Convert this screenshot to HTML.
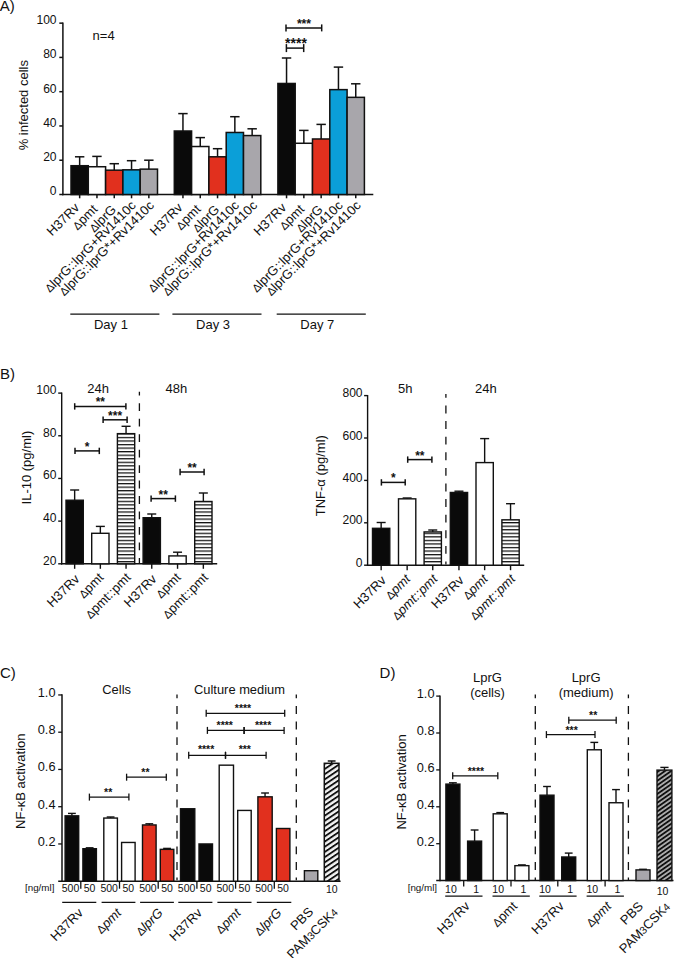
<!DOCTYPE html>
<html><head><meta charset="utf-8"><title>Figure</title>
<style>
html,body{margin:0;padding:0;background:#fff;}
body{width:675px;height:958px;overflow:hidden;font-family:"Liberation Sans",sans-serif;}
svg{display:block;}
svg text{font-family:"Liberation Sans",sans-serif;fill:#111;}
</style></head><body>
<svg width="675" height="958" viewBox="0 0 675 958">
<defs>
<pattern id="hs" x="0" y="0.2" width="4" height="3.55" patternUnits="userSpaceOnUse"><rect x="0" y="0" width="4" height="3.55" fill="#fff"/><rect x="0" y="0" width="4" height="1.25" fill="#111"/></pattern>
<pattern id="dg" x="0" y="1.2" width="6" height="4.3" patternUnits="userSpaceOnUse" patternTransform="rotate(-34)"><rect width="6" height="4.3" fill="#f3f3f3"/><rect width="6" height="1.85" fill="#111"/></pattern>
<pattern id="dg2" x="0" y="0.5" width="6" height="3.6" patternUnits="userSpaceOnUse" patternTransform="rotate(-35)"><rect width="6" height="3.6" fill="#ababab"/><rect width="6" height="1.75" fill="#0c0c0c"/></pattern>
</defs>
<rect width="675" height="958" fill="#fff"/>
<text x="-0.30" y="10.80" font-size="15" text-anchor="start" >A)</text>
<line x1="62.90" y1="22.55" x2="62.90" y2="195.15" stroke="#111" stroke-width="1.5" />
<line x1="62.20" y1="194.50" x2="373.30" y2="194.50" stroke="#111" stroke-width="1.5" />
<line x1="59.30" y1="194.50" x2="62.90" y2="194.50" stroke="#111" stroke-width="1.5" />
<text x="56.60" y="195.40" font-size="12.1" text-anchor="end" >0</text>
<line x1="59.30" y1="160.23" x2="62.90" y2="160.23" stroke="#111" stroke-width="1.5" />
<text x="56.60" y="161.13" font-size="12.1" text-anchor="end" >20</text>
<line x1="59.30" y1="125.96" x2="62.90" y2="125.96" stroke="#111" stroke-width="1.5" />
<text x="56.60" y="126.86" font-size="12.1" text-anchor="end" >40</text>
<line x1="59.30" y1="91.69" x2="62.90" y2="91.69" stroke="#111" stroke-width="1.5" />
<text x="56.60" y="92.59" font-size="12.1" text-anchor="end" >60</text>
<line x1="59.30" y1="57.42" x2="62.90" y2="57.42" stroke="#111" stroke-width="1.5" />
<text x="56.60" y="58.32" font-size="12.1" text-anchor="end" >80</text>
<line x1="59.30" y1="23.15" x2="62.90" y2="23.15" stroke="#111" stroke-width="1.5" />
<text x="56.60" y="24.05" font-size="12.1" text-anchor="end" >100</text>
<text x="28.20" y="105.20" font-size="13" text-anchor="middle" transform="rotate(-90 28.20 105.20)" >% infected cells</text>
<text x="92.60" y="39.60" font-size="13" text-anchor="start" >n=4</text>
<line x1="79.65" y1="165.71" x2="79.65" y2="156.80" stroke="#111" stroke-width="1.5" />
<line x1="74.95" y1="156.80" x2="84.35" y2="156.80" stroke="#111" stroke-width="1.5" />
<rect x="71.00" y="165.71" width="17.30" height="28.79" fill="#0a0a0a" stroke="#111" stroke-width="1.5"/>
<line x1="79.65" y1="194.50" x2="79.65" y2="198.30" stroke="#111" stroke-width="1.5" />
<text x="80.15" y="208.50" font-size="13" text-anchor="end" transform="rotate(-45 80.15 208.50)" >H37Rv</text>
<line x1="96.95" y1="166.74" x2="96.95" y2="156.40" stroke="#111" stroke-width="1.5" />
<line x1="92.25" y1="156.40" x2="101.65" y2="156.40" stroke="#111" stroke-width="1.5" />
<rect x="88.30" y="166.74" width="17.30" height="27.76" fill="#ffffff" stroke="#111" stroke-width="1.5"/>
<line x1="96.95" y1="194.50" x2="96.95" y2="198.30" stroke="#111" stroke-width="1.5" />
<text x="98.25" y="210.00" font-size="13" text-anchor="end" transform="rotate(-45 98.25 210.00)" ><tspan font-size="11.3">Δ</tspan>pmt</text>
<line x1="114.25" y1="170.17" x2="114.25" y2="163.70" stroke="#111" stroke-width="1.5" />
<line x1="109.55" y1="163.70" x2="118.95" y2="163.70" stroke="#111" stroke-width="1.5" />
<rect x="105.60" y="170.17" width="17.30" height="24.33" fill="#e1301e" stroke="#111" stroke-width="1.5"/>
<line x1="114.25" y1="194.50" x2="114.25" y2="198.30" stroke="#111" stroke-width="1.5" />
<text x="116.85" y="210.30" font-size="13" text-anchor="end" transform="rotate(-45 116.85 210.30)" ><tspan font-size="11.3">Δ</tspan>lprG</text>
<line x1="131.55" y1="169.83" x2="131.55" y2="160.70" stroke="#111" stroke-width="1.5" />
<line x1="126.85" y1="160.70" x2="136.25" y2="160.70" stroke="#111" stroke-width="1.5" />
<rect x="122.90" y="169.83" width="17.30" height="24.67" fill="#0b9fd8" stroke="#111" stroke-width="1.5"/>
<line x1="131.55" y1="194.50" x2="131.55" y2="198.30" stroke="#111" stroke-width="1.5" />
<text x="136.65" y="206.20" font-size="13" text-anchor="end" transform="rotate(-45 136.65 206.20)" ><tspan font-size="11.3">Δ</tspan>lprG::lprG+Rv1410c</text>
<line x1="148.85" y1="169.14" x2="148.85" y2="160.20" stroke="#111" stroke-width="1.5" />
<line x1="144.15" y1="160.20" x2="153.55" y2="160.20" stroke="#111" stroke-width="1.5" />
<rect x="140.20" y="169.14" width="17.30" height="25.36" fill="#a8a6ab" stroke="#111" stroke-width="1.5"/>
<line x1="148.85" y1="194.50" x2="148.85" y2="198.30" stroke="#111" stroke-width="1.5" />
<text x="154.75" y="206.20" font-size="13" text-anchor="end" transform="rotate(-45 154.75 206.20)" ><tspan font-size="11.3">Δ</tspan>lprG::lprG*+Rv1410c</text>
<line x1="182.95" y1="131.00" x2="182.95" y2="113.60" stroke="#111" stroke-width="1.5" />
<line x1="178.25" y1="113.60" x2="187.65" y2="113.60" stroke="#111" stroke-width="1.5" />
<rect x="174.30" y="131.00" width="17.30" height="63.50" fill="#0a0a0a" stroke="#111" stroke-width="1.5"/>
<line x1="182.95" y1="194.50" x2="182.95" y2="198.30" stroke="#111" stroke-width="1.5" />
<text x="183.45" y="208.50" font-size="13" text-anchor="end" transform="rotate(-45 183.45 208.50)" >H37Rv</text>
<line x1="200.25" y1="146.52" x2="200.25" y2="137.60" stroke="#111" stroke-width="1.5" />
<line x1="195.55" y1="137.60" x2="204.95" y2="137.60" stroke="#111" stroke-width="1.5" />
<rect x="191.60" y="146.52" width="17.30" height="47.98" fill="#ffffff" stroke="#111" stroke-width="1.5"/>
<line x1="200.25" y1="194.50" x2="200.25" y2="198.30" stroke="#111" stroke-width="1.5" />
<text x="201.55" y="210.00" font-size="13" text-anchor="end" transform="rotate(-45 201.55 210.00)" ><tspan font-size="11.3">Δ</tspan>pmt</text>
<line x1="217.55" y1="156.80" x2="217.55" y2="148.70" stroke="#111" stroke-width="1.5" />
<line x1="212.85" y1="148.70" x2="222.25" y2="148.70" stroke="#111" stroke-width="1.5" />
<rect x="208.90" y="156.80" width="17.30" height="37.70" fill="#e1301e" stroke="#111" stroke-width="1.5"/>
<line x1="217.55" y1="194.50" x2="217.55" y2="198.30" stroke="#111" stroke-width="1.5" />
<text x="220.15" y="210.30" font-size="13" text-anchor="end" transform="rotate(-45 220.15 210.30)" ><tspan font-size="11.3">Δ</tspan>lprG</text>
<line x1="234.85" y1="132.47" x2="234.85" y2="116.70" stroke="#111" stroke-width="1.5" />
<line x1="230.15" y1="116.70" x2="239.55" y2="116.70" stroke="#111" stroke-width="1.5" />
<rect x="226.20" y="132.47" width="17.30" height="62.03" fill="#0b9fd8" stroke="#111" stroke-width="1.5"/>
<line x1="234.85" y1="194.50" x2="234.85" y2="198.30" stroke="#111" stroke-width="1.5" />
<text x="239.95" y="206.20" font-size="13" text-anchor="end" transform="rotate(-45 239.95 206.20)" ><tspan font-size="11.3">Δ</tspan>lprG::lprG+Rv1410c</text>
<line x1="252.15" y1="135.56" x2="252.15" y2="128.80" stroke="#111" stroke-width="1.5" />
<line x1="247.45" y1="128.80" x2="256.85" y2="128.80" stroke="#111" stroke-width="1.5" />
<rect x="243.50" y="135.56" width="17.30" height="58.94" fill="#a8a6ab" stroke="#111" stroke-width="1.5"/>
<line x1="252.15" y1="194.50" x2="252.15" y2="198.30" stroke="#111" stroke-width="1.5" />
<text x="258.05" y="206.20" font-size="13" text-anchor="end" transform="rotate(-45 258.05 206.20)" ><tspan font-size="11.3">Δ</tspan>lprG::lprG*+Rv1410c</text>
<line x1="286.55" y1="83.47" x2="286.55" y2="58.00" stroke="#111" stroke-width="1.5" />
<line x1="281.85" y1="58.00" x2="291.25" y2="58.00" stroke="#111" stroke-width="1.5" />
<rect x="277.90" y="83.47" width="17.30" height="111.03" fill="#0a0a0a" stroke="#111" stroke-width="1.5"/>
<line x1="286.55" y1="194.50" x2="286.55" y2="198.30" stroke="#111" stroke-width="1.5" />
<text x="287.05" y="208.50" font-size="13" text-anchor="end" transform="rotate(-45 287.05 208.50)" >H37Rv</text>
<line x1="303.85" y1="143.27" x2="303.85" y2="130.40" stroke="#111" stroke-width="1.5" />
<line x1="299.15" y1="130.40" x2="308.55" y2="130.40" stroke="#111" stroke-width="1.5" />
<rect x="295.20" y="143.27" width="17.30" height="51.23" fill="#ffffff" stroke="#111" stroke-width="1.5"/>
<line x1="303.85" y1="194.50" x2="303.85" y2="198.30" stroke="#111" stroke-width="1.5" />
<text x="305.15" y="210.00" font-size="13" text-anchor="end" transform="rotate(-45 305.15 210.00)" ><tspan font-size="11.3">Δ</tspan>pmt</text>
<line x1="321.15" y1="138.98" x2="321.15" y2="124.40" stroke="#111" stroke-width="1.5" />
<line x1="316.45" y1="124.40" x2="325.85" y2="124.40" stroke="#111" stroke-width="1.5" />
<rect x="312.50" y="138.98" width="17.30" height="55.52" fill="#e1301e" stroke="#111" stroke-width="1.5"/>
<line x1="321.15" y1="194.50" x2="321.15" y2="198.30" stroke="#111" stroke-width="1.5" />
<text x="323.75" y="210.30" font-size="13" text-anchor="end" transform="rotate(-45 323.75 210.30)" ><tspan font-size="11.3">Δ</tspan>lprG</text>
<line x1="338.45" y1="89.63" x2="338.45" y2="67.10" stroke="#111" stroke-width="1.5" />
<line x1="333.75" y1="67.10" x2="343.15" y2="67.10" stroke="#111" stroke-width="1.5" />
<rect x="329.80" y="89.63" width="17.30" height="104.87" fill="#0b9fd8" stroke="#111" stroke-width="1.5"/>
<line x1="338.45" y1="194.50" x2="338.45" y2="198.30" stroke="#111" stroke-width="1.5" />
<text x="343.55" y="206.20" font-size="13" text-anchor="end" transform="rotate(-45 343.55 206.20)" ><tspan font-size="11.3">Δ</tspan>lprG::lprG+Rv1410c</text>
<line x1="355.75" y1="97.34" x2="355.75" y2="83.80" stroke="#111" stroke-width="1.5" />
<line x1="351.05" y1="83.80" x2="360.45" y2="83.80" stroke="#111" stroke-width="1.5" />
<rect x="347.10" y="97.34" width="17.30" height="97.16" fill="#a8a6ab" stroke="#111" stroke-width="1.5"/>
<line x1="355.75" y1="194.50" x2="355.75" y2="198.30" stroke="#111" stroke-width="1.5" />
<text x="361.65" y="206.20" font-size="13" text-anchor="end" transform="rotate(-45 361.65 206.20)" ><tspan font-size="11.3">Δ</tspan>lprG::lprG*+Rv1410c</text>
<line x1="286.00" y1="27.90" x2="321.70" y2="27.90" stroke="#111" stroke-width="1.5" />
<line x1="286.00" y1="24.40" x2="286.00" y2="31.40" stroke="#111" stroke-width="1.5" />
<line x1="321.70" y1="24.40" x2="321.70" y2="31.40" stroke="#111" stroke-width="1.5" />
<text x="304.00" y="28.10" font-size="12.2" text-anchor="middle" font-weight="bold">***</text>
<line x1="286.40" y1="48.10" x2="303.70" y2="48.10" stroke="#111" stroke-width="1.5" />
<line x1="286.40" y1="44.10" x2="286.40" y2="52.10" stroke="#111" stroke-width="1.5" />
<line x1="303.70" y1="44.10" x2="303.70" y2="52.10" stroke="#111" stroke-width="1.5" />
<text x="296.00" y="47.80" font-size="14" text-anchor="middle" font-weight="bold">****</text>
<line x1="70.30" y1="314.20" x2="159.40" y2="314.20" stroke="#111" stroke-width="1.3" />
<text x="110.95" y="329.00" font-size="13" text-anchor="middle" >Day 1</text>
<line x1="172.40" y1="314.20" x2="261.50" y2="314.20" stroke="#111" stroke-width="1.3" />
<text x="213.05" y="329.00" font-size="13" text-anchor="middle" >Day 3</text>
<line x1="276.70" y1="314.20" x2="365.80" y2="314.20" stroke="#111" stroke-width="1.3" />
<text x="317.35" y="329.00" font-size="13" text-anchor="middle" >Day 7</text>
<text x="0.00" y="379.40" font-size="15" text-anchor="start" >B)</text>
<line x1="61.70" y1="392.50" x2="61.70" y2="564.45" stroke="#111" stroke-width="1.4" />
<line x1="61.00" y1="563.80" x2="217.20" y2="563.80" stroke="#111" stroke-width="1.4" />
<line x1="58.20" y1="563.80" x2="61.70" y2="563.80" stroke="#111" stroke-width="1.4" />
<text x="56.40" y="564.60" font-size="12.1" text-anchor="end" >20</text>
<line x1="58.20" y1="521.12" x2="61.70" y2="521.12" stroke="#111" stroke-width="1.4" />
<text x="56.40" y="521.92" font-size="12.1" text-anchor="end" >40</text>
<line x1="58.20" y1="478.45" x2="61.70" y2="478.45" stroke="#111" stroke-width="1.4" />
<text x="56.40" y="479.25" font-size="12.1" text-anchor="end" >60</text>
<line x1="58.20" y1="435.77" x2="61.70" y2="435.77" stroke="#111" stroke-width="1.4" />
<text x="56.40" y="436.57" font-size="12.1" text-anchor="end" >80</text>
<line x1="58.20" y1="393.10" x2="61.70" y2="393.10" stroke="#111" stroke-width="1.4" />
<text x="56.40" y="393.90" font-size="12.1" text-anchor="end" >100</text>
<text x="30.60" y="467.60" font-size="13" text-anchor="middle" transform="rotate(-90 30.60 467.60)" >IL-10 (pg/ml)</text>
<text x="87.20" y="392.80" font-size="13" text-anchor="start" >24h</text>
<text x="165.50" y="392.80" font-size="13" text-anchor="start" >48h</text>
<line x1="74.65" y1="500.21" x2="74.65" y2="490.00" stroke="#111" stroke-width="1.4" />
<line x1="70.15" y1="490.00" x2="79.15" y2="490.00" stroke="#111" stroke-width="1.4" />
<rect x="66.00" y="500.21" width="17.30" height="63.59" fill="#0a0a0a" stroke="#111" stroke-width="1.4"/>
<line x1="74.65" y1="563.80" x2="74.65" y2="568.80" stroke="#111" stroke-width="1.4" />
<text x="80.35" y="579.80" font-size="13" text-anchor="end" transform="rotate(-45 80.35 579.80)" >H37Rv</text>
<line x1="100.35" y1="533.29" x2="100.35" y2="526.40" stroke="#111" stroke-width="1.4" />
<line x1="95.85" y1="526.40" x2="104.85" y2="526.40" stroke="#111" stroke-width="1.4" />
<rect x="91.70" y="533.29" width="17.30" height="30.51" fill="#ffffff" stroke="#111" stroke-width="1.4"/>
<line x1="100.35" y1="563.80" x2="100.35" y2="568.80" stroke="#111" stroke-width="1.4" />
<text x="104.35" y="578.30" font-size="13" text-anchor="end" transform="rotate(-45 104.35 578.30)" ><tspan font-size="11.3">Δ</tspan>pmt</text>
<line x1="126.05" y1="433.64" x2="126.05" y2="426.30" stroke="#111" stroke-width="1.4" />
<line x1="121.55" y1="426.30" x2="130.55" y2="426.30" stroke="#111" stroke-width="1.4" />
<rect x="117.40" y="433.64" width="17.30" height="130.16" fill="url(#hs)" stroke="#111" stroke-width="1.4"/>
<line x1="126.05" y1="563.80" x2="126.05" y2="568.80" stroke="#111" stroke-width="1.4" />
<text x="131.55" y="578.30" font-size="13" text-anchor="end" transform="rotate(-45 131.55 578.30)" ><tspan font-size="11.3">Δ</tspan>pmt::pmt</text>
<line x1="151.75" y1="517.71" x2="151.75" y2="514.00" stroke="#111" stroke-width="1.4" />
<line x1="147.25" y1="514.00" x2="156.25" y2="514.00" stroke="#111" stroke-width="1.4" />
<rect x="143.10" y="517.71" width="17.30" height="46.09" fill="#0a0a0a" stroke="#111" stroke-width="1.4"/>
<line x1="151.75" y1="563.80" x2="151.75" y2="568.80" stroke="#111" stroke-width="1.4" />
<text x="157.45" y="579.80" font-size="13" text-anchor="end" transform="rotate(-45 157.45 579.80)" >H37Rv</text>
<line x1="177.55" y1="555.91" x2="177.55" y2="552.20" stroke="#111" stroke-width="1.4" />
<line x1="173.05" y1="552.20" x2="182.05" y2="552.20" stroke="#111" stroke-width="1.4" />
<rect x="168.90" y="555.91" width="17.30" height="7.89" fill="#ffffff" stroke="#111" stroke-width="1.4"/>
<line x1="177.55" y1="563.80" x2="177.55" y2="568.80" stroke="#111" stroke-width="1.4" />
<text x="181.55" y="578.30" font-size="13" text-anchor="end" transform="rotate(-45 181.55 578.30)" ><tspan font-size="11.3">Δ</tspan>pmt</text>
<line x1="203.35" y1="501.49" x2="203.35" y2="493.00" stroke="#111" stroke-width="1.4" />
<line x1="198.85" y1="493.00" x2="207.85" y2="493.00" stroke="#111" stroke-width="1.4" />
<rect x="194.70" y="501.49" width="17.30" height="62.31" fill="url(#hs)" stroke="#111" stroke-width="1.4"/>
<line x1="203.35" y1="563.80" x2="203.35" y2="568.80" stroke="#111" stroke-width="1.4" />
<text x="208.85" y="578.30" font-size="13" text-anchor="end" transform="rotate(-45 208.85 578.30)" ><tspan font-size="11.3">Δ</tspan>pmt::pmt</text>
<line x1="139.40" y1="391.80" x2="139.40" y2="563.20" stroke="#111" stroke-width="1.3" stroke-dasharray="7.8 7.67" stroke-dashoffset="4.0"/>
<line x1="74.70" y1="406.40" x2="125.90" y2="406.40" stroke="#111" stroke-width="1.5" />
<line x1="74.70" y1="403.20" x2="74.70" y2="409.60" stroke="#111" stroke-width="1.5" />
<line x1="125.90" y1="403.20" x2="125.90" y2="409.60" stroke="#111" stroke-width="1.5" />
<text x="100.30" y="406.40" font-size="12" text-anchor="middle" font-weight="bold">**</text>
<line x1="103.10" y1="419.80" x2="127.10" y2="419.80" stroke="#111" stroke-width="1.5" />
<line x1="103.10" y1="416.60" x2="103.10" y2="423.00" stroke="#111" stroke-width="1.5" />
<line x1="127.10" y1="416.60" x2="127.10" y2="423.00" stroke="#111" stroke-width="1.5" />
<text x="115.10" y="419.80" font-size="12" text-anchor="middle" font-weight="bold">***</text>
<line x1="75.00" y1="450.90" x2="99.30" y2="450.90" stroke="#111" stroke-width="1.5" />
<line x1="75.00" y1="447.70" x2="75.00" y2="454.10" stroke="#111" stroke-width="1.5" />
<line x1="99.30" y1="447.70" x2="99.30" y2="454.10" stroke="#111" stroke-width="1.5" />
<text x="87.15" y="450.90" font-size="12" text-anchor="middle" font-weight="bold">*</text>
<line x1="151.10" y1="498.60" x2="175.40" y2="498.60" stroke="#111" stroke-width="1.5" />
<line x1="151.10" y1="495.40" x2="151.10" y2="501.80" stroke="#111" stroke-width="1.5" />
<line x1="175.40" y1="495.40" x2="175.40" y2="501.80" stroke="#111" stroke-width="1.5" />
<text x="163.25" y="498.60" font-size="12" text-anchor="middle" font-weight="bold">**</text>
<line x1="180.10" y1="472.00" x2="204.10" y2="472.00" stroke="#111" stroke-width="1.5" />
<line x1="180.10" y1="468.80" x2="180.10" y2="475.20" stroke="#111" stroke-width="1.5" />
<line x1="204.10" y1="468.80" x2="204.10" y2="475.20" stroke="#111" stroke-width="1.5" />
<text x="192.10" y="472.00" font-size="12" text-anchor="middle" font-weight="bold">**</text>
<line x1="367.60" y1="395.00" x2="367.60" y2="565.85" stroke="#111" stroke-width="1.4" />
<line x1="366.90" y1="565.20" x2="524.20" y2="565.20" stroke="#111" stroke-width="1.4" />
<line x1="364.10" y1="565.20" x2="367.60" y2="565.20" stroke="#111" stroke-width="1.4" />
<text x="362.60" y="566.80" font-size="12.1" text-anchor="end" >0</text>
<line x1="364.10" y1="522.80" x2="367.60" y2="522.80" stroke="#111" stroke-width="1.4" />
<text x="362.60" y="524.40" font-size="12.1" text-anchor="end" >200</text>
<line x1="364.10" y1="480.40" x2="367.60" y2="480.40" stroke="#111" stroke-width="1.4" />
<text x="362.60" y="482.00" font-size="12.1" text-anchor="end" >400</text>
<line x1="364.10" y1="438.00" x2="367.60" y2="438.00" stroke="#111" stroke-width="1.4" />
<text x="362.60" y="439.60" font-size="12.1" text-anchor="end" >600</text>
<line x1="364.10" y1="395.60" x2="367.60" y2="395.60" stroke="#111" stroke-width="1.4" />
<text x="362.60" y="397.20" font-size="12.1" text-anchor="end" >800</text>
<text x="325.20" y="475.70" font-size="13" text-anchor="middle" transform="rotate(-90 325.20 475.70)" >TNF-α (pg/ml)</text>
<text x="398.00" y="392.80" font-size="13" text-anchor="start" >5h</text>
<text x="475.00" y="392.80" font-size="13" text-anchor="start" >24h</text>
<line x1="381.15" y1="528.31" x2="381.15" y2="522.50" stroke="#111" stroke-width="1.4" />
<line x1="376.65" y1="522.50" x2="385.65" y2="522.50" stroke="#111" stroke-width="1.4" />
<rect x="372.50" y="528.31" width="17.30" height="36.89" fill="#0a0a0a" stroke="#111" stroke-width="1.4"/>
<line x1="381.15" y1="565.20" x2="381.15" y2="570.20" stroke="#111" stroke-width="1.4" />
<text x="386.85" y="581.20" font-size="13" text-anchor="end" transform="rotate(-45 386.85 581.20)" >H37Rv</text>
<line x1="407.15" y1="498.84" x2="407.15" y2="498.00" stroke="#111" stroke-width="1.4" />
<line x1="402.65" y1="498.00" x2="411.65" y2="498.00" stroke="#111" stroke-width="1.4" />
<rect x="398.50" y="498.84" width="17.30" height="66.36" fill="#ffffff" stroke="#111" stroke-width="1.4"/>
<line x1="407.15" y1="565.20" x2="407.15" y2="570.20" stroke="#111" stroke-width="1.4" />
<text x="411.15" y="579.70" font-size="13" text-anchor="end" transform="rotate(-45 411.15 579.70)" ><tspan font-size="11.3">Δ</tspan><tspan font-style="italic">pmt</tspan></text>
<line x1="432.75" y1="531.92" x2="432.75" y2="530.00" stroke="#111" stroke-width="1.4" />
<line x1="428.25" y1="530.00" x2="437.25" y2="530.00" stroke="#111" stroke-width="1.4" />
<rect x="424.10" y="531.92" width="17.30" height="33.28" fill="url(#hs)" stroke="#111" stroke-width="1.4"/>
<line x1="432.75" y1="565.20" x2="432.75" y2="570.20" stroke="#111" stroke-width="1.4" />
<text x="438.25" y="579.70" font-size="13" text-anchor="end" transform="rotate(-45 438.25 579.70)" ><tspan font-size="11.3">Δ</tspan><tspan font-style="italic">pmt::pmt</tspan></text>
<line x1="458.95" y1="492.48" x2="458.95" y2="491.20" stroke="#111" stroke-width="1.4" />
<line x1="454.45" y1="491.20" x2="463.45" y2="491.20" stroke="#111" stroke-width="1.4" />
<rect x="450.30" y="492.48" width="17.30" height="72.72" fill="#0a0a0a" stroke="#111" stroke-width="1.4"/>
<line x1="458.95" y1="565.20" x2="458.95" y2="570.20" stroke="#111" stroke-width="1.4" />
<text x="464.65" y="581.20" font-size="13" text-anchor="end" transform="rotate(-45 464.65 581.20)" >H37Rv</text>
<line x1="484.65" y1="462.59" x2="484.65" y2="438.60" stroke="#111" stroke-width="1.4" />
<line x1="480.15" y1="438.60" x2="489.15" y2="438.60" stroke="#111" stroke-width="1.4" />
<rect x="476.00" y="462.59" width="17.30" height="102.61" fill="#ffffff" stroke="#111" stroke-width="1.4"/>
<line x1="484.65" y1="565.20" x2="484.65" y2="570.20" stroke="#111" stroke-width="1.4" />
<text x="488.65" y="579.70" font-size="13" text-anchor="end" transform="rotate(-45 488.65 579.70)" ><tspan font-size="11.3">Δ</tspan><tspan font-style="italic">pmt</tspan></text>
<line x1="510.55" y1="519.83" x2="510.55" y2="503.70" stroke="#111" stroke-width="1.4" />
<line x1="506.05" y1="503.70" x2="515.05" y2="503.70" stroke="#111" stroke-width="1.4" />
<rect x="501.90" y="519.83" width="17.30" height="45.37" fill="url(#hs)" stroke="#111" stroke-width="1.4"/>
<line x1="510.55" y1="565.20" x2="510.55" y2="570.20" stroke="#111" stroke-width="1.4" />
<text x="516.05" y="579.70" font-size="13" text-anchor="end" transform="rotate(-45 516.05 579.70)" ><tspan font-size="11.3">Δ</tspan><tspan font-style="italic">pmt::pmt</tspan></text>
<line x1="445.90" y1="393.90" x2="445.90" y2="564.60" stroke="#111" stroke-width="1.3" stroke-dasharray="7.9 7.7" stroke-dashoffset="4.0"/>
<line x1="381.40" y1="482.40" x2="405.20" y2="482.40" stroke="#111" stroke-width="1.5" />
<line x1="381.40" y1="479.20" x2="381.40" y2="485.60" stroke="#111" stroke-width="1.5" />
<line x1="405.20" y1="479.20" x2="405.20" y2="485.60" stroke="#111" stroke-width="1.5" />
<text x="393.30" y="482.40" font-size="12" text-anchor="middle" font-weight="bold">*</text>
<line x1="407.70" y1="459.60" x2="431.90" y2="459.60" stroke="#111" stroke-width="1.5" />
<line x1="407.70" y1="456.40" x2="407.70" y2="462.80" stroke="#111" stroke-width="1.5" />
<line x1="431.90" y1="456.40" x2="431.90" y2="462.80" stroke="#111" stroke-width="1.5" />
<text x="419.80" y="459.60" font-size="12" text-anchor="middle" font-weight="bold">**</text>
<text x="0.00" y="677.50" font-size="15" text-anchor="start" >C)</text>
<line x1="62.00" y1="694.35" x2="62.00" y2="881.80" stroke="#111" stroke-width="1.5" />
<line x1="58.20" y1="881.20" x2="340.60" y2="881.20" stroke="#111" stroke-width="1.5" />
<line x1="58.20" y1="843.95" x2="62.00" y2="843.95" stroke="#111" stroke-width="1.3" />
<text x="55.50" y="845.75" font-size="12.8" text-anchor="end" >0.2</text>
<line x1="58.20" y1="806.70" x2="62.00" y2="806.70" stroke="#111" stroke-width="1.3" />
<text x="55.50" y="808.50" font-size="12.8" text-anchor="end" >0.4</text>
<line x1="58.20" y1="769.45" x2="62.00" y2="769.45" stroke="#111" stroke-width="1.3" />
<text x="55.50" y="771.25" font-size="12.8" text-anchor="end" >0.6</text>
<line x1="58.20" y1="732.20" x2="62.00" y2="732.20" stroke="#111" stroke-width="1.3" />
<text x="55.50" y="734.00" font-size="12.8" text-anchor="end" >0.8</text>
<line x1="58.20" y1="694.95" x2="62.00" y2="694.95" stroke="#111" stroke-width="1.3" />
<text x="55.50" y="696.75" font-size="12.8" text-anchor="end" >1.0</text>
<text x="24.70" y="781.20" font-size="13" text-anchor="middle" transform="rotate(-90 24.70 781.20)" >NF-κB activation</text>
<text x="102.30" y="693.50" font-size="12.9" text-anchor="start" >Cells</text>
<text x="194.00" y="693.50" font-size="12.9" text-anchor="start" >Culture medium</text>
<line x1="71.90" y1="815.83" x2="71.90" y2="813.40" stroke="#111" stroke-width="1.4" />
<line x1="68.00" y1="813.40" x2="75.80" y2="813.40" stroke="#111" stroke-width="1.4" />
<rect x="65.10" y="815.83" width="13.60" height="65.37" fill="#0a0a0a" stroke="#111" stroke-width="1.4"/>
<line x1="89.65" y1="848.70" x2="89.65" y2="847.80" stroke="#111" stroke-width="1.4" />
<line x1="85.75" y1="847.80" x2="93.55" y2="847.80" stroke="#111" stroke-width="1.4" />
<rect x="82.90" y="848.70" width="13.50" height="32.50" fill="#0a0a0a" stroke="#111" stroke-width="1.4"/>
<line x1="80.80" y1="881.20" x2="80.80" y2="888.70" stroke="#111" stroke-width="1.3" />
<text x="70.50" y="892.20" font-size="10.5" text-anchor="middle" >500</text>
<text x="89.60" y="892.20" font-size="10.5" text-anchor="middle" >50</text>
<line x1="62.20" y1="902.40" x2="96.30" y2="902.40" stroke="#111" stroke-width="1.3" />
<text x="83.80" y="913.70" font-size="13" text-anchor="end" transform="rotate(-45 83.80 913.70)" >H37Rv</text>
<line x1="110.60" y1="818.06" x2="110.60" y2="817.00" stroke="#111" stroke-width="1.4" />
<line x1="106.70" y1="817.00" x2="114.50" y2="817.00" stroke="#111" stroke-width="1.4" />
<rect x="103.80" y="818.06" width="13.60" height="63.14" fill="#ffffff" stroke="#111" stroke-width="1.4"/>
<rect x="121.60" y="842.46" width="13.50" height="38.74" fill="#ffffff" stroke="#111" stroke-width="1.4"/>
<line x1="119.50" y1="881.20" x2="119.50" y2="888.70" stroke="#111" stroke-width="1.3" />
<text x="109.20" y="892.20" font-size="10.5" text-anchor="middle" >500</text>
<text x="128.30" y="892.20" font-size="10.5" text-anchor="middle" >50</text>
<line x1="101.60" y1="902.40" x2="135.40" y2="902.40" stroke="#111" stroke-width="1.3" />
<text x="122.00" y="913.70" font-size="13" text-anchor="end" transform="rotate(-45 122.00 913.70)" ><tspan font-size="11.5">Δ</tspan><tspan font-style="italic">pmt</tspan></text>
<line x1="149.30" y1="824.95" x2="149.30" y2="823.80" stroke="#111" stroke-width="1.4" />
<line x1="145.40" y1="823.80" x2="153.20" y2="823.80" stroke="#111" stroke-width="1.4" />
<rect x="142.50" y="824.95" width="13.60" height="56.25" fill="#e1301e" stroke="#111" stroke-width="1.4"/>
<line x1="167.05" y1="849.35" x2="167.05" y2="848.40" stroke="#111" stroke-width="1.4" />
<line x1="163.15" y1="848.40" x2="170.95" y2="848.40" stroke="#111" stroke-width="1.4" />
<rect x="160.30" y="849.35" width="13.50" height="31.85" fill="#e1301e" stroke="#111" stroke-width="1.4"/>
<line x1="158.20" y1="881.20" x2="158.20" y2="888.70" stroke="#111" stroke-width="1.3" />
<text x="147.90" y="892.20" font-size="10.5" text-anchor="middle" >500</text>
<text x="167.00" y="892.20" font-size="10.5" text-anchor="middle" >50</text>
<line x1="140.10" y1="902.40" x2="173.90" y2="902.40" stroke="#111" stroke-width="1.3" />
<text x="163.70" y="913.70" font-size="13" text-anchor="end" transform="rotate(-45 163.70 913.70)" ><tspan font-size="11.5">Δ</tspan><tspan font-style="italic">lprG</tspan></text>
<rect x="180.50" y="808.75" width="14.30" height="72.45" fill="#0a0a0a" stroke="#111" stroke-width="1.4"/>
<rect x="199.00" y="843.95" width="13.50" height="37.25" fill="#0a0a0a" stroke="#111" stroke-width="1.4"/>
<line x1="196.90" y1="881.20" x2="196.90" y2="888.70" stroke="#111" stroke-width="1.3" />
<text x="186.60" y="892.20" font-size="10.5" text-anchor="middle" >500</text>
<text x="205.70" y="892.20" font-size="10.5" text-anchor="middle" >50</text>
<line x1="178.30" y1="902.40" x2="212.40" y2="902.40" stroke="#111" stroke-width="1.3" />
<text x="202.90" y="913.70" font-size="13" text-anchor="end" transform="rotate(-45 202.90 913.70)" >H37Rv</text>
<rect x="219.20" y="765.17" width="14.30" height="116.03" fill="#ffffff" stroke="#111" stroke-width="1.4"/>
<rect x="237.70" y="810.43" width="13.50" height="70.77" fill="#ffffff" stroke="#111" stroke-width="1.4"/>
<line x1="235.60" y1="881.20" x2="235.60" y2="888.70" stroke="#111" stroke-width="1.3" />
<text x="225.30" y="892.20" font-size="10.5" text-anchor="middle" >500</text>
<text x="244.40" y="892.20" font-size="10.5" text-anchor="middle" >50</text>
<line x1="217.40" y1="902.40" x2="251.50" y2="902.40" stroke="#111" stroke-width="1.3" />
<text x="241.60" y="913.70" font-size="13" text-anchor="end" transform="rotate(-45 241.60 913.70)" ><tspan font-size="11.5">Δ</tspan><tspan font-style="italic">pmt</tspan></text>
<line x1="265.05" y1="796.83" x2="265.05" y2="793.00" stroke="#111" stroke-width="1.4" />
<line x1="261.15" y1="793.00" x2="268.95" y2="793.00" stroke="#111" stroke-width="1.4" />
<rect x="257.90" y="796.83" width="14.30" height="84.37" fill="#e1301e" stroke="#111" stroke-width="1.4"/>
<rect x="276.40" y="828.49" width="13.50" height="52.71" fill="#e1301e" stroke="#111" stroke-width="1.4"/>
<line x1="274.30" y1="881.20" x2="274.30" y2="888.70" stroke="#111" stroke-width="1.3" />
<text x="264.00" y="892.20" font-size="10.5" text-anchor="middle" >500</text>
<text x="283.10" y="892.20" font-size="10.5" text-anchor="middle" >50</text>
<line x1="256.80" y1="902.40" x2="291.30" y2="902.40" stroke="#111" stroke-width="1.3" />
<text x="282.30" y="913.70" font-size="13" text-anchor="end" transform="rotate(-45 282.30 913.70)" ><tspan font-size="11.5">Δ</tspan><tspan font-style="italic">lprG</tspan></text>
<text x="25.00" y="891.00" font-size="9.8" text-anchor="start" >[ng/ml]</text>
<rect x="304.40" y="870.70" width="13.40" height="10.50" fill="#a8a6ab" stroke="#111" stroke-width="1.4"/>
<line x1="331.65" y1="763.30" x2="331.65" y2="761.00" stroke="#111" stroke-width="1.5" />
<line x1="327.75" y1="761.00" x2="335.55" y2="761.00" stroke="#111" stroke-width="1.5" />
<rect x="324.30" y="763.30" width="14.70" height="117.90" fill="url(#dg)" stroke="#111" stroke-width="1.5"/>
<text x="331.80" y="892.80" font-size="10.5" text-anchor="middle" >10</text>
<text x="314.10" y="912.70" font-size="13" text-anchor="end" transform="rotate(-45 314.10 912.70)" >PBS</text>
<text x="338.60" y="913.20" font-size="13" text-anchor="end" transform="rotate(-45 338.60 913.20)" >PAM<tspan font-size="10.5">3</tspan>CSK<tspan font-size="10.5">4</tspan></text>
<line x1="177.00" y1="694.40" x2="177.00" y2="880.30" stroke="#111" stroke-width="1.3" stroke-dasharray="7.9 7.7" stroke-dashoffset="4.0"/>
<line x1="296.30" y1="694.40" x2="296.30" y2="880.30" stroke="#111" stroke-width="1.3" stroke-dasharray="7.9 7.7" stroke-dashoffset="4.0"/>
<line x1="206.20" y1="713.30" x2="284.70" y2="713.30" stroke="#111" stroke-width="1.3" />
<line x1="206.20" y1="709.80" x2="206.20" y2="716.80" stroke="#111" stroke-width="1.3" />
<line x1="284.70" y1="709.80" x2="284.70" y2="716.80" stroke="#111" stroke-width="1.3" />
<text x="243.05" y="712.20" font-size="10.5" text-anchor="middle" font-weight="bold">****</text>
<line x1="207.40" y1="730.40" x2="244.10" y2="730.40" stroke="#111" stroke-width="1.3" />
<line x1="207.40" y1="726.90" x2="207.40" y2="733.90" stroke="#111" stroke-width="1.3" />
<line x1="244.10" y1="726.90" x2="244.10" y2="733.90" stroke="#111" stroke-width="1.3" />
<text x="224.75" y="729.30" font-size="10.5" text-anchor="middle" font-weight="bold">****</text>
<line x1="244.10" y1="730.40" x2="284.10" y2="730.40" stroke="#111" stroke-width="1.3" />
<line x1="244.10" y1="726.90" x2="244.10" y2="733.90" stroke="#111" stroke-width="1.3" />
<line x1="284.10" y1="726.90" x2="284.10" y2="733.90" stroke="#111" stroke-width="1.3" />
<text x="263.10" y="729.30" font-size="10.5" text-anchor="middle" font-weight="bold">****</text>
<line x1="188.70" y1="755.30" x2="225.50" y2="755.30" stroke="#111" stroke-width="1.3" />
<line x1="188.70" y1="751.80" x2="188.70" y2="758.80" stroke="#111" stroke-width="1.3" />
<line x1="225.50" y1="751.80" x2="225.50" y2="758.80" stroke="#111" stroke-width="1.3" />
<text x="206.10" y="752.90" font-size="10.5" text-anchor="middle" font-weight="bold">****</text>
<line x1="225.50" y1="755.30" x2="266.10" y2="755.30" stroke="#111" stroke-width="1.3" />
<line x1="225.50" y1="751.80" x2="225.50" y2="758.80" stroke="#111" stroke-width="1.3" />
<line x1="266.10" y1="751.80" x2="266.10" y2="758.80" stroke="#111" stroke-width="1.3" />
<text x="244.80" y="752.90" font-size="10.5" text-anchor="middle" font-weight="bold">***</text>
<line x1="89.40" y1="797.10" x2="128.90" y2="797.10" stroke="#111" stroke-width="1.3" />
<line x1="89.40" y1="793.60" x2="89.40" y2="800.60" stroke="#111" stroke-width="1.3" />
<line x1="128.90" y1="793.60" x2="128.90" y2="800.60" stroke="#111" stroke-width="1.3" />
<text x="108.15" y="796.00" font-size="10.5" text-anchor="middle" font-weight="bold">**</text>
<line x1="126.60" y1="777.20" x2="166.30" y2="777.20" stroke="#111" stroke-width="1.3" />
<line x1="126.60" y1="773.70" x2="126.60" y2="780.70" stroke="#111" stroke-width="1.3" />
<line x1="166.30" y1="773.70" x2="166.30" y2="780.70" stroke="#111" stroke-width="1.3" />
<text x="145.45" y="776.10" font-size="10.5" text-anchor="middle" font-weight="bold">**</text>
<text x="379.60" y="678.30" font-size="15" text-anchor="start" >D)</text>
<line x1="440.00" y1="695.50" x2="440.00" y2="881.20" stroke="#111" stroke-width="1.5" />
<line x1="436.20" y1="880.60" x2="673.50" y2="880.60" stroke="#111" stroke-width="1.5" />
<line x1="436.20" y1="843.70" x2="440.00" y2="843.70" stroke="#111" stroke-width="1.3" />
<text x="434.50" y="845.70" font-size="12.8" text-anchor="end" >0.2</text>
<line x1="436.20" y1="806.80" x2="440.00" y2="806.80" stroke="#111" stroke-width="1.3" />
<text x="434.50" y="808.80" font-size="12.8" text-anchor="end" >0.4</text>
<line x1="436.20" y1="769.90" x2="440.00" y2="769.90" stroke="#111" stroke-width="1.3" />
<text x="434.50" y="771.90" font-size="12.8" text-anchor="end" >0.6</text>
<line x1="436.20" y1="733.00" x2="440.00" y2="733.00" stroke="#111" stroke-width="1.3" />
<text x="434.50" y="735.00" font-size="12.8" text-anchor="end" >0.8</text>
<line x1="436.20" y1="696.10" x2="440.00" y2="696.10" stroke="#111" stroke-width="1.3" />
<text x="434.50" y="698.10" font-size="12.8" text-anchor="end" >1.0</text>
<text x="406.30" y="781.90" font-size="13" text-anchor="middle" transform="rotate(-90 406.30 781.90)" >NF-κB activation</text>
<text x="487.50" y="681.50" font-size="13" text-anchor="middle" >LprG</text>
<text x="487.50" y="697.00" font-size="13" text-anchor="middle" >(cells)</text>
<text x="586.10" y="681.50" font-size="13" text-anchor="middle" >LprG</text>
<text x="586.10" y="697.00" font-size="13" text-anchor="middle" >(medium)</text>
<line x1="452.90" y1="784.11" x2="452.90" y2="782.80" stroke="#111" stroke-width="1.4" />
<line x1="449.00" y1="782.80" x2="456.80" y2="782.80" stroke="#111" stroke-width="1.4" />
<rect x="445.90" y="784.11" width="14.00" height="96.49" fill="#0a0a0a" stroke="#111" stroke-width="1.4"/>
<line x1="474.60" y1="841.12" x2="474.60" y2="830.00" stroke="#111" stroke-width="1.4" />
<line x1="470.70" y1="830.00" x2="478.50" y2="830.00" stroke="#111" stroke-width="1.4" />
<rect x="467.60" y="841.12" width="14.00" height="39.48" fill="#0a0a0a" stroke="#111" stroke-width="1.4"/>
<line x1="463.70" y1="880.60" x2="463.70" y2="886.60" stroke="#111" stroke-width="1.3" />
<text x="450.90" y="892.50" font-size="10.5" text-anchor="middle" >10</text>
<text x="476.10" y="892.50" font-size="10.5" text-anchor="middle" >1</text>
<line x1="445.20" y1="896.10" x2="482.50" y2="896.10" stroke="#111" stroke-width="1.3" />
<text x="470.70" y="907.00" font-size="13" text-anchor="end" transform="rotate(-45 470.70 907.00)" >H37Rv</text>
<line x1="500.20" y1="813.81" x2="500.20" y2="812.60" stroke="#111" stroke-width="1.4" />
<line x1="496.30" y1="812.60" x2="504.10" y2="812.60" stroke="#111" stroke-width="1.4" />
<rect x="493.20" y="813.81" width="14.00" height="66.79" fill="#ffffff" stroke="#111" stroke-width="1.4"/>
<line x1="521.90" y1="865.66" x2="521.90" y2="864.90" stroke="#111" stroke-width="1.4" />
<line x1="518.00" y1="864.90" x2="525.80" y2="864.90" stroke="#111" stroke-width="1.4" />
<rect x="514.90" y="865.66" width="14.00" height="14.94" fill="#ffffff" stroke="#111" stroke-width="1.4"/>
<line x1="511.00" y1="880.60" x2="511.00" y2="886.60" stroke="#111" stroke-width="1.3" />
<text x="498.20" y="892.50" font-size="10.5" text-anchor="middle" >10</text>
<text x="523.40" y="892.50" font-size="10.5" text-anchor="middle" >1</text>
<line x1="492.50" y1="896.10" x2="529.80" y2="896.10" stroke="#111" stroke-width="1.3" />
<text x="518.00" y="907.00" font-size="13" text-anchor="end" transform="rotate(-45 518.00 907.00)" ><tspan font-size="11.5">Δ</tspan>pmt</text>
<line x1="547.00" y1="795.18" x2="547.00" y2="786.50" stroke="#111" stroke-width="1.4" />
<line x1="543.10" y1="786.50" x2="550.90" y2="786.50" stroke="#111" stroke-width="1.4" />
<rect x="540.00" y="795.18" width="14.00" height="85.42" fill="#0a0a0a" stroke="#111" stroke-width="1.4"/>
<line x1="568.70" y1="856.98" x2="568.70" y2="853.10" stroke="#111" stroke-width="1.4" />
<line x1="564.80" y1="853.10" x2="572.60" y2="853.10" stroke="#111" stroke-width="1.4" />
<rect x="561.70" y="856.98" width="14.00" height="23.62" fill="#0a0a0a" stroke="#111" stroke-width="1.4"/>
<line x1="557.80" y1="880.60" x2="557.80" y2="886.60" stroke="#111" stroke-width="1.3" />
<text x="545.00" y="892.50" font-size="10.5" text-anchor="middle" >10</text>
<text x="570.20" y="892.50" font-size="10.5" text-anchor="middle" >1</text>
<line x1="539.30" y1="896.10" x2="576.60" y2="896.10" stroke="#111" stroke-width="1.3" />
<text x="564.80" y="907.00" font-size="13" text-anchor="end" transform="rotate(-45 564.80 907.00)" >H37Rv</text>
<line x1="594.30" y1="749.79" x2="594.30" y2="742.40" stroke="#111" stroke-width="1.4" />
<line x1="590.40" y1="742.40" x2="598.20" y2="742.40" stroke="#111" stroke-width="1.4" />
<rect x="587.30" y="749.79" width="14.00" height="130.81" fill="#ffffff" stroke="#111" stroke-width="1.4"/>
<line x1="616.00" y1="802.74" x2="616.00" y2="789.60" stroke="#111" stroke-width="1.4" />
<line x1="612.10" y1="789.60" x2="619.90" y2="789.60" stroke="#111" stroke-width="1.4" />
<rect x="609.00" y="802.74" width="14.00" height="77.86" fill="#ffffff" stroke="#111" stroke-width="1.4"/>
<line x1="605.10" y1="880.60" x2="605.10" y2="886.60" stroke="#111" stroke-width="1.3" />
<text x="592.30" y="892.50" font-size="10.5" text-anchor="middle" >10</text>
<text x="617.50" y="892.50" font-size="10.5" text-anchor="middle" >1</text>
<line x1="586.60" y1="896.10" x2="623.90" y2="896.10" stroke="#111" stroke-width="1.3" />
<text x="612.10" y="907.00" font-size="13" text-anchor="end" transform="rotate(-45 612.10 907.00)" ><tspan font-size="11.5">Δ</tspan><tspan font-style="italic">pmt</tspan></text>
<text x="407.70" y="891.00" font-size="9.8" text-anchor="start" >[ng/ml]</text>
<line x1="643.00" y1="869.90" x2="643.00" y2="869.30" stroke="#111" stroke-width="1.4" />
<line x1="639.10" y1="869.30" x2="646.90" y2="869.30" stroke="#111" stroke-width="1.4" />
<rect x="636.00" y="869.90" width="14.00" height="10.70" fill="#a8a6ab" stroke="#111" stroke-width="1.4"/>
<line x1="664.45" y1="770.10" x2="664.45" y2="767.40" stroke="#111" stroke-width="1.4" />
<line x1="660.35" y1="767.40" x2="668.55" y2="767.40" stroke="#111" stroke-width="1.4" />
<rect x="657.00" y="770.10" width="14.90" height="110.50" fill="url(#dg2)" stroke="#111" stroke-width="1.4"/>
<text x="662.60" y="894.60" font-size="10.5" text-anchor="middle" >10</text>
<text x="644.00" y="907.00" font-size="13" text-anchor="end" transform="rotate(-45 644.00 907.00)" >PBS</text>
<text x="671.00" y="907.50" font-size="13" text-anchor="end" transform="rotate(-45 671.00 907.50)" >PAM<tspan font-size="10.5">3</tspan>CSK<tspan font-size="10.5">4</tspan></text>
<line x1="535.30" y1="694.40" x2="535.30" y2="880.30" stroke="#111" stroke-width="1.3" stroke-dasharray="7.9 7.7" stroke-dashoffset="4.0"/>
<line x1="628.40" y1="694.40" x2="628.40" y2="880.30" stroke="#111" stroke-width="1.3" stroke-dasharray="7.9 7.7" stroke-dashoffset="4.0"/>
<line x1="452.70" y1="775.80" x2="497.80" y2="775.80" stroke="#111" stroke-width="1.3" />
<line x1="452.70" y1="772.30" x2="452.70" y2="779.30" stroke="#111" stroke-width="1.3" />
<line x1="497.80" y1="772.30" x2="497.80" y2="779.30" stroke="#111" stroke-width="1.3" />
<text x="475.95" y="774.70" font-size="10.5" text-anchor="middle" font-weight="bold">****</text>
<line x1="546.40" y1="734.60" x2="595.00" y2="734.60" stroke="#111" stroke-width="1.3" />
<line x1="546.40" y1="731.10" x2="546.40" y2="738.10" stroke="#111" stroke-width="1.3" />
<line x1="595.00" y1="731.10" x2="595.00" y2="738.10" stroke="#111" stroke-width="1.3" />
<text x="571.60" y="733.50" font-size="10.5" text-anchor="middle" font-weight="bold">***</text>
<line x1="568.80" y1="720.20" x2="616.20" y2="720.20" stroke="#111" stroke-width="1.3" />
<line x1="568.80" y1="716.70" x2="568.80" y2="723.70" stroke="#111" stroke-width="1.3" />
<line x1="616.20" y1="716.70" x2="616.20" y2="723.70" stroke="#111" stroke-width="1.3" />
<text x="593.20" y="719.10" font-size="10.5" text-anchor="middle" font-weight="bold">**</text>
</svg>
</body></html>
